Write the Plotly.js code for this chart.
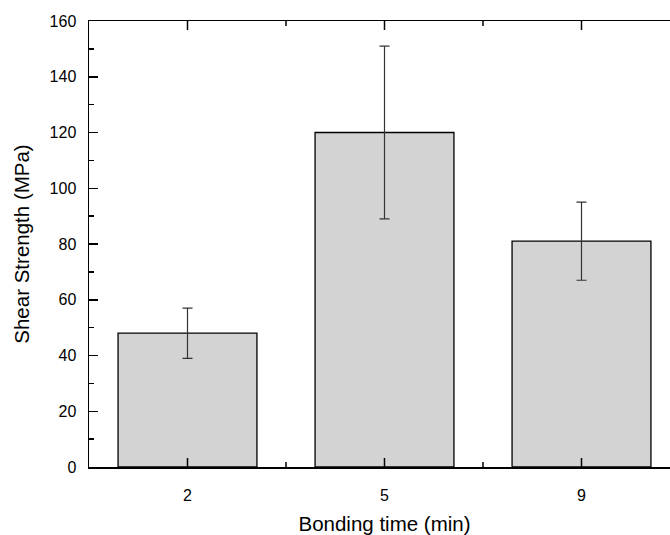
<!DOCTYPE html>
<html>
<head>
<meta charset="utf-8">
<script src="https://cdn.plot.ly/plotly-3.0.1.min.js"></script>
<style>
html,body{margin:0;padding:0;overflow:hidden;background:#fff;}
#chart{width:690px;height:535px;}
</style>
</head>
<body>
<div id="chart"></div>
<script>
const categories = ["2", "5", "9"];
const shearStrength = [48, 120, 81];
const errorValues = [9, 31, 14];
const yTickValues = [0, 20, 40, 60, 80, 100, 120, 140, 160];

const positions = categories.map((c, i) => i);
const midpoints = positions.slice(1).map(p => p - 0.5).concat([positions[positions.length - 1] + 0.5]);

const trace = {
  type: "bar",
  x: positions,
  y: shearStrength,
  width: 0.705,
  marker: {color: "#d3d3d3", line: {color: "#000", width: 1.3}},
  error_y: {type: "data", array: errorValues, visible: true, color: "#333", thickness: 1.2, width: 5}
};

// inward x-axis tick marks on bottom and top, drawn above the bars
function tickShape(xv, len, atTop) {
  return {
    type: "line", layer: "above",
    xref: "x", yref: "paper",
    ysizemode: "pixel", yanchor: atTop ? 1 : 0,
    x0: xv, x1: xv,
    y0: 0, y1: atTop ? -len : len,
    line: {color: "#000", width: 1.5}
  };
}
const shapes = [];
positions.forEach(p => { shapes.push(tickShape(p, 9, false)); shapes.push(tickShape(p, 9, true)); });
midpoints.forEach(p => { shapes.push(tickShape(p, 5, false)); shapes.push(tickShape(p, 5, true)); });

const axisFont = {family: "Liberation Sans, Arial, sans-serif", size: 16, color: "#000"};
const titleFont = {family: "Liberation Sans, Arial, sans-serif", size: 20.5, color: "#000"};
const layout = {
  width: 690, height: 535,
  margin: {l: 89, r: 10, t: 21, b: 68},
  paper_bgcolor: "#fff", plot_bgcolor: "#fff",
  showlegend: false,
  font: axisFont,
  shapes: shapes,
  xaxis: {
    range: [-0.5, 2.5],
    tickmode: "array",
    tickvals: positions,
    ticktext: categories,
    showline: true, linecolor: "#000", linewidth: 1.5,
    mirror: true,
    layer: "above traces",
    ticks: "",
    showgrid: false, zeroline: false,
    ticklabelstandoff: 13,
    tickfont: axisFont,
    title: {text: "Bonding time (min)", font: titleFont, standoff: 20}
  },
  yaxis: {
    range: [0, 160],
    tickvals: yTickValues,
    showline: true, linecolor: "#000", linewidth: 1.5,
    layer: "above traces",
    ticks: "inside", ticklen: 9, tickwidth: 1.5, tickcolor: "#000",
    minor: {ticks: "inside", ticklen: 5, tickwidth: 1.5, tickcolor: "#000", dtick: 10, showgrid: false},
    showgrid: false, zeroline: false,
    ticklabelstandoff: 8,
    tickfont: axisFont,
    title: {text: "Shear Strength (MPa)", font: titleFont, standoff: 14}
  }
};

Plotly.newPlot("chart", [trace], layout, {displayModeBar: false, staticPlot: true});
</script>
</body>
</html>
